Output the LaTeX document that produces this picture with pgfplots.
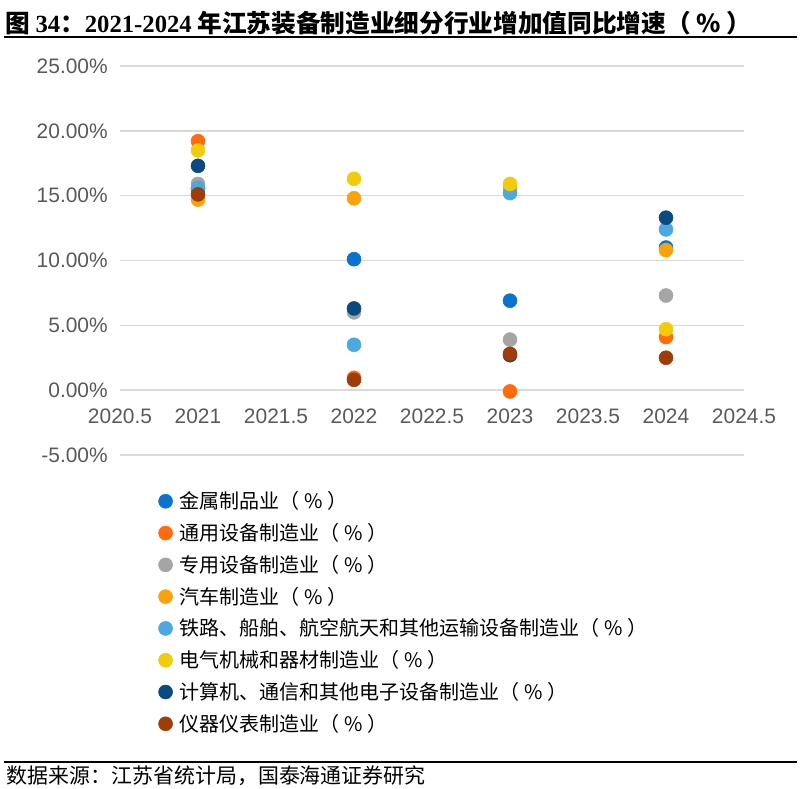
\documentclass[border=0pt]{standalone}
\usepackage{pgfplots}
\pgfplotsset{compat=1.18}
\usepackage{fontspec}
\setmainfont{Liberation Sans}
\newfontfamily\cjk{Noto Sans CJK SC}
\newfontfamily\tserif{Liberation Serif}
\definecolor{cJS}{HTML}{0A72CF}
\definecolor{cTY}{HTML}{FF6A0A}
\definecolor{cZY}{HTML}{A5A5A5}
\definecolor{cQC}{HTML}{FAA20B}
\definecolor{cTL}{HTML}{4BA8E0}
\definecolor{cDQ}{HTML}{F2CC0C}
\definecolor{cJSJ}{HTML}{0B4A7E}
\definecolor{cYQ}{HTML}{9E3D09}
\definecolor{tickgray}{HTML}{595959}
\begin{document}
\begin{tikzpicture}
\useasboundingbox (0,0) rectangle (600.75pt,591.75pt);
% title
\node[anchor=base west, inner sep=0pt] at (3.75pt,567pt) {\fontsize{18.5}{21}\selectfont\bfseries\cjk 图 {\tserif\bfseries 34}：{\tserif\bfseries 2021-2024} 年江苏装备制造业细分行业增加值同比增速（ \% ）};
\draw[line width=1.4pt, black] (3pt,564pt) -- (598pt,564pt);
\draw[line width=1.1pt, black] (3pt,20.25pt) -- (598pt,20.25pt);
\node[anchor=base west, inner sep=0pt] at (5pt,4pt) {\fontsize{15.7}{18}\selectfont\cjk 数据来源：江苏省统计局，国泰海通证券研究};
\begin{axis}[
  at={(90pt,250.5pt)}, anchor=south west,
  width=468pt, height=291.75pt, scale only axis,
  xmin=2020.5, xmax=2024.5, ymin=-5, ymax=25,
  xtick={2020.5,2021,2021.5,2022,2022.5,2023,2023.5,2024,2024.5},
  xticklabels={2020.5,2021,2021.5,2022,2022.5,2023,2023.5,2024,2024.5},
  ytick={-5,0,5,10,15,20,25},
  yticklabel={\pgfmathprintnumber[fixed,fixed zerofill,precision=2]{\tick}\%},
  /pgf/number format/assume math mode=true,
  axis line style={draw=none},
  major tick length=0pt,
  ymajorgrids, grid style={draw=black!15, line width=1.1pt},
  tick label style={font=\fontsize{15.7}{18}\selectfont, text=tickgray},
  yticklabel style={anchor=east, inner sep=0pt, xshift=-9pt},
  xticklabel style={anchor=center, inner sep=0pt, yshift=29.25pt},
  clip=false,
  only marks,
  legend cell align=left,
  legend style={at={(0.055,-0.08)}, anchor=north west, draw=none, fill=none,
    font=\fontsize{15}{18}\selectfont\cjk, row sep=5.5pt,
    nodes={inner xsep=5.5pt}},
]
\addplot[mark=*, mark size=5.25pt, color=cJS] coordinates {(2021,15.5) (2022,10.1) (2023,6.9) (2024,11.0)};
\addlegendentry{金属制品业（ \% ）}
\addplot[mark=*, mark size=5.25pt, color=cTY] coordinates {(2021,19.2) (2022,0.95) (2023,-0.1) (2024,4.1)};
\addlegendentry{通用设备制造业（ \% ）}
\addplot[mark=*, mark size=5.25pt, color=cZY] coordinates {(2021,15.9) (2022,6.0) (2023,3.9) (2024,7.3)};
\addlegendentry{专用设备制造业（ \% ）}
\addplot[mark=*, mark size=5.25pt, color=cQC] coordinates {(2021,14.7) (2022,14.8) (2023,15.6) (2024,10.8)};
\addlegendentry{汽车制造业（ \% ）}
\addplot[mark=*, mark size=5.25pt, color=cTL] coordinates {(2021,15.6) (2022,3.5) (2023,15.2) (2024,12.4)};
\addlegendentry{铁路、船舶、航空航天和其他运输设备制造业（ \% ）}
\addplot[mark=*, mark size=5.25pt, color=cDQ] coordinates {(2021,18.5) (2022,16.3) (2023,15.9) (2024,4.7)};
\addlegendentry{电气机械和器材制造业（ \% ）}
\addplot[mark=*, mark size=5.25pt, color=cJSJ] coordinates {(2021,17.3) (2022,6.3) (2023,2.7) (2024,13.3)};
\addlegendentry{计算机、通信和其他电子设备制造业（ \% ）}
\addplot[mark=*, mark size=5.25pt, color=cYQ] coordinates {(2021,15.1) (2022,0.8) (2023,2.8) (2024,2.5)};
\addlegendentry{仪器仪表制造业（ \% ）}
\end{axis}
\end{tikzpicture}
\end{document}
